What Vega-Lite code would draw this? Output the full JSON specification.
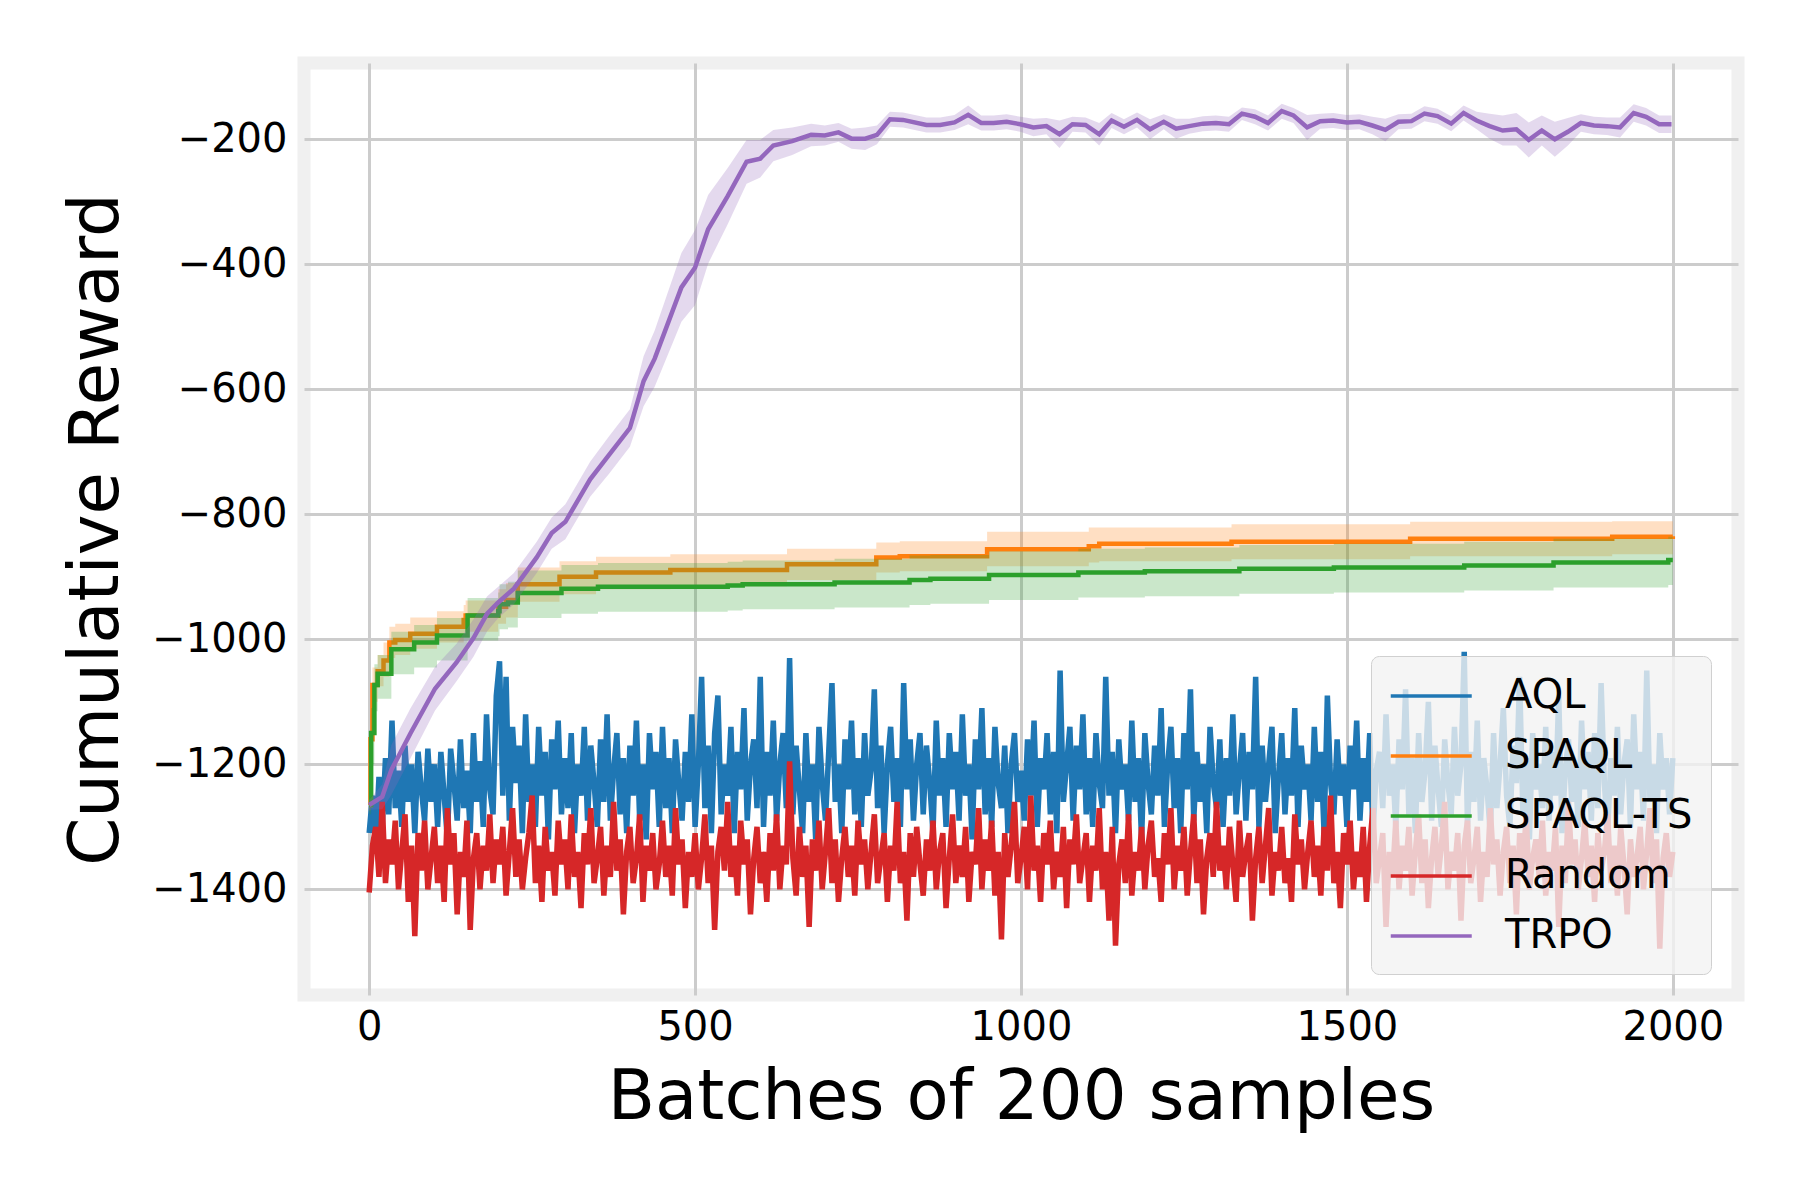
{
  "$schema": "https://vega.github.io/schema/vega-lite/v6.json",
  "width": 1434,
  "height": 932,
  "autosize": {"type": "none"},
  "padding": {"left": 304, "top": 63, "right": 62, "bottom": 205},
  "background": "#ffffff",
  "config": {
    "font": "DejaVu Sans",
    "view": {"stroke": "#f0f0f0", "strokeWidth": 13, "fill": "#ffffff"},
    "axis": {
      "grid": true,
      "gridColor": "#cccccc",
      "gridWidth": 3,
      "domain": false,
      "ticks": false,
      "labelFont": "DejaVu Sans",
      "labelFontSize": 40,
      "labelColor": "#000000",
      "titleFont": "DejaVu Sans",
      "titleFontSize": 69,
      "titleFontWeight": "normal",
      "titleColor": "#000000"
    }
  },
  "datasets": {
    "noisy": [
      {"x":0,"AQL":-1310,"Random":-1405},{"x":5,"AQL":-1250,"Random":-1330},{"x":10,"AQL":-1330,"Random":-1300},{"x":15,"AQL":-1220,"Random":-1380},{"x":20,"AQL":-1300,"Random":-1260},{"x":25,"AQL":-1190,"Random":-1390},{"x":30,"AQL":-1280,"Random":-1320},{"x":35,"AQL":-1130,"Random":-1360},{"x":40,"AQL":-1270,"Random":-1290},{"x":45,"AQL":-1210,"Random":-1400},
      {"x":50,"AQL":-1300,"Random":-1340},{"x":55,"AQL":-1170,"Random":-1280},{"x":60,"AQL":-1260,"Random":-1420},{"x":65,"AQL":-1200,"Random":-1330},{"x":70,"AQL":-1310,"Random":-1475},{"x":75,"AQL":-1180,"Random":-1310},{"x":80,"AQL":-1240,"Random":-1370},{"x":85,"AQL":-1290,"Random":-1290},{"x":90,"AQL":-1175,"Random":-1400},{"x":95,"AQL":-1260,"Random":-1350},
      {"x":100,"AQL":-1200,"Random":-1300},{"x":105,"AQL":-1300,"Random":-1390},{"x":110,"AQL":-1180,"Random":-1330},{"x":115,"AQL":-1250,"Random":-1420},{"x":120,"AQL":-1320,"Random":-1270},{"x":125,"AQL":-1175,"Random":-1360},{"x":130,"AQL":-1230,"Random":-1310},{"x":135,"AQL":-1290,"Random":-1440},{"x":140,"AQL":-1160,"Random":-1340},{"x":145,"AQL":-1270,"Random":-1380},
      {"x":150,"AQL":-1210,"Random":-1290},{"x":155,"AQL":-1310,"Random":-1465},{"x":160,"AQL":-1150,"Random":-1350},{"x":165,"AQL":-1260,"Random":-1310},{"x":170,"AQL":-1195,"Random":-1400},{"x":175,"AQL":-1300,"Random":-1330},{"x":180,"AQL":-1120,"Random":-1370},{"x":185,"AQL":-1240,"Random":-1280},{"x":190,"AQL":-1280,"Random":-1390},{"x":195,"AQL":-1090,"Random":-1320},
      {"x":200,"AQL":-1035,"Random":-1360},{"x":205,"AQL":-1250,"Random":-1300},{"x":210,"AQL":-1060,"Random":-1410},{"x":215,"AQL":-1290,"Random":-1340},{"x":220,"AQL":-1140,"Random":-1270},{"x":225,"AQL":-1230,"Random":-1380},{"x":230,"AQL":-1170,"Random":-1320},{"x":235,"AQL":-1310,"Random":-1400},{"x":240,"AQL":-1120,"Random":-1350},{"x":245,"AQL":-1260,"Random":-1310},
      {"x":250,"AQL":-1200,"Random":-1250},{"x":255,"AQL":-1300,"Random":-1390},{"x":260,"AQL":-1140,"Random":-1330},{"x":265,"AQL":-1250,"Random":-1420},{"x":270,"AQL":-1180,"Random":-1300},{"x":275,"AQL":-1320,"Random":-1370},{"x":280,"AQL":-1160,"Random":-1340},{"x":285,"AQL":-1240,"Random":-1410},{"x":290,"AQL":-1130,"Random":-1290},{"x":295,"AQL":-1280,"Random":-1360},
      {"x":300,"AQL":-1190,"Random":-1320},{"x":305,"AQL":-1270,"Random":-1400},{"x":310,"AQL":-1150,"Random":-1280},{"x":315,"AQL":-1310,"Random":-1380},{"x":320,"AQL":-1200,"Random":-1340},{"x":325,"AQL":-1250,"Random":-1430},{"x":330,"AQL":-1140,"Random":-1310},{"x":335,"AQL":-1290,"Random":-1360},{"x":340,"AQL":-1170,"Random":-1270},{"x":345,"AQL":-1230,"Random":-1390},
      {"x":350,"AQL":-1300,"Random":-1350},{"x":355,"AQL":-1160,"Random":-1300},{"x":360,"AQL":-1260,"Random":-1410},{"x":365,"AQL":-1120,"Random":-1330},{"x":370,"AQL":-1290,"Random":-1380},{"x":375,"AQL":-1210,"Random":-1260},{"x":380,"AQL":-1150,"Random":-1370},{"x":385,"AQL":-1280,"Random":-1320},{"x":390,"AQL":-1190,"Random":-1440},{"x":395,"AQL":-1310,"Random":-1340},
      {"x":400,"AQL":-1170,"Random":-1300},{"x":405,"AQL":-1250,"Random":-1390},{"x":410,"AQL":-1130,"Random":-1350},{"x":415,"AQL":-1290,"Random":-1280},{"x":420,"AQL":-1200,"Random":-1420},{"x":425,"AQL":-1320,"Random":-1330},{"x":430,"AQL":-1150,"Random":-1370},{"x":435,"AQL":-1240,"Random":-1310},{"x":440,"AQL":-1180,"Random":-1400},{"x":445,"AQL":-1300,"Random":-1360},
      {"x":450,"AQL":-1140,"Random":-1290},{"x":455,"AQL":-1270,"Random":-1380},{"x":460,"AQL":-1190,"Random":-1330},{"x":465,"AQL":-1310,"Random":-1410},{"x":470,"AQL":-1160,"Random":-1270},{"x":475,"AQL":-1230,"Random":-1360},{"x":480,"AQL":-1290,"Random":-1320},{"x":485,"AQL":-1180,"Random":-1430},{"x":490,"AQL":-1260,"Random":-1340},{"x":495,"AQL":-1120,"Random":-1380},
      {"x":500,"AQL":-1300,"Random":-1310},{"x":505,"AQL":-1200,"Random":-1400},{"x":510,"AQL":-1060,"Random":-1350},{"x":515,"AQL":-1270,"Random":-1280},{"x":520,"AQL":-1170,"Random":-1390},{"x":525,"AQL":-1310,"Random":-1330},{"x":530,"AQL":-1150,"Random":-1465},{"x":535,"AQL":-1090,"Random":-1340},{"x":540,"AQL":-1280,"Random":-1300},{"x":545,"AQL":-1200,"Random":-1370},
      {"x":550,"AQL":-1250,"Random":-1260},{"x":555,"AQL":-1140,"Random":-1380},{"x":560,"AQL":-1310,"Random":-1330},{"x":565,"AQL":-1180,"Random":-1410},{"x":570,"AQL":-1240,"Random":-1290},{"x":575,"AQL":-1110,"Random":-1360},{"x":580,"AQL":-1290,"Random":-1320},{"x":585,"AQL":-1200,"Random":-1440},{"x":590,"AQL":-1160,"Random":-1350},{"x":595,"AQL":-1270,"Random":-1300},
      {"x":600,"AQL":-1060,"Random":-1390},{"x":605,"AQL":-1300,"Random":-1340},{"x":610,"AQL":-1180,"Random":-1420},{"x":615,"AQL":-1250,"Random":-1310},{"x":620,"AQL":-1130,"Random":-1370},{"x":625,"AQL":-1290,"Random":-1280},{"x":630,"AQL":-1200,"Random":-1400},{"x":635,"AQL":-1150,"Random":-1330},{"x":640,"AQL":-1270,"Random":-1360},{"x":645,"AQL":-1030,"Random":-1195},
      {"x":650,"AQL":-1280,"Random":-1350},{"x":655,"AQL":-1170,"Random":-1410},{"x":660,"AQL":-1240,"Random":-1300},{"x":665,"AQL":-1310,"Random":-1380},{"x":670,"AQL":-1150,"Random":-1330},{"x":675,"AQL":-1260,"Random":-1460},{"x":680,"AQL":-1200,"Random":-1320},{"x":685,"AQL":-1320,"Random":-1370},{"x":690,"AQL":-1140,"Random":-1290},{"x":695,"AQL":-1230,"Random":-1400},
      {"x":700,"AQL":-1290,"Random":-1340},{"x":705,"AQL":-1180,"Random":-1270},{"x":710,"AQL":-1070,"Random":-1390},{"x":715,"AQL":-1260,"Random":-1320},{"x":720,"AQL":-1200,"Random":-1420},{"x":725,"AQL":-1310,"Random":-1350},{"x":730,"AQL":-1160,"Random":-1300},{"x":735,"AQL":-1240,"Random":-1380},{"x":740,"AQL":-1130,"Random":-1330},{"x":745,"AQL":-1280,"Random":-1410},
      {"x":750,"AQL":-1190,"Random":-1290},{"x":755,"AQL":-1300,"Random":-1360},{"x":760,"AQL":-1150,"Random":-1320},{"x":765,"AQL":-1250,"Random":-1400},{"x":770,"AQL":-1210,"Random":-1340},{"x":775,"AQL":-1080,"Random":-1280},{"x":780,"AQL":-1270,"Random":-1390},{"x":785,"AQL":-1170,"Random":-1350},{"x":790,"AQL":-1310,"Random":-1310},{"x":795,"AQL":-1200,"Random":-1420},
      {"x":800,"AQL":-1140,"Random":-1330},{"x":805,"AQL":-1260,"Random":-1370},{"x":810,"AQL":-1190,"Random":-1260},{"x":815,"AQL":-1300,"Random":-1390},{"x":820,"AQL":-1070,"Random":-1340},{"x":825,"AQL":-1240,"Random":-1450},{"x":830,"AQL":-1160,"Random":-1310},{"x":835,"AQL":-1290,"Random":-1380},{"x":840,"AQL":-1200,"Random":-1300},{"x":845,"AQL":-1150,"Random":-1360},
      {"x":850,"AQL":-1280,"Random":-1410},{"x":855,"AQL":-1170,"Random":-1320},{"x":860,"AQL":-1230,"Random":-1370},{"x":865,"AQL":-1310,"Random":-1290},{"x":870,"AQL":-1130,"Random":-1400},{"x":875,"AQL":-1250,"Random":-1340},{"x":880,"AQL":-1190,"Random":-1310},{"x":885,"AQL":-1300,"Random":-1430},{"x":890,"AQL":-1150,"Random":-1350},{"x":895,"AQL":-1240,"Random":-1280},
      {"x":900,"AQL":-1180,"Random":-1390},{"x":905,"AQL":-1290,"Random":-1330},{"x":910,"AQL":-1120,"Random":-1380},{"x":915,"AQL":-1250,"Random":-1300},{"x":920,"AQL":-1200,"Random":-1420},{"x":925,"AQL":-1320,"Random":-1340},{"x":930,"AQL":-1160,"Random":-1360},{"x":935,"AQL":-1240,"Random":-1270},{"x":940,"AQL":-1110,"Random":-1400},{"x":945,"AQL":-1280,"Random":-1320},
      {"x":950,"AQL":-1190,"Random":-1370},{"x":955,"AQL":-1300,"Random":-1290},{"x":960,"AQL":-1140,"Random":-1410},{"x":965,"AQL":-1230,"Random":-1340},{"x":970,"AQL":-1270,"Random":-1480},{"x":975,"AQL":-1170,"Random":-1310},{"x":980,"AQL":-1310,"Random":-1380},{"x":985,"AQL":-1200,"Random":-1330},{"x":990,"AQL":-1150,"Random":-1260},{"x":995,"AQL":-1260,"Random":-1390},
      {"x":1000,"AQL":-1210,"Random":-1350},{"x":1005,"AQL":-1290,"Random":-1300},{"x":1010,"AQL":-1160,"Random":-1400},{"x":1015,"AQL":-1250,"Random":-1250},{"x":1020,"AQL":-1130,"Random":-1370},{"x":1025,"AQL":-1300,"Random":-1330},{"x":1030,"AQL":-1190,"Random":-1420},{"x":1035,"AQL":-1240,"Random":-1310},{"x":1040,"AQL":-1150,"Random":-1360},{"x":1045,"AQL":-1280,"Random":-1290},
      {"x":1050,"AQL":-1180,"Random":-1400},{"x":1055,"AQL":-1310,"Random":-1340},{"x":1060,"AQL":-1050,"Random":-1380},{"x":1065,"AQL":-1260,"Random":-1300},{"x":1070,"AQL":-1200,"Random":-1430},{"x":1075,"AQL":-1140,"Random":-1320},{"x":1080,"AQL":-1290,"Random":-1360},{"x":1085,"AQL":-1170,"Random":-1280},{"x":1090,"AQL":-1240,"Random":-1390},{"x":1095,"AQL":-1120,"Random":-1350},
      {"x":1100,"AQL":-1280,"Random":-1310},{"x":1105,"AQL":-1190,"Random":-1420},{"x":1110,"AQL":-1300,"Random":-1330},{"x":1115,"AQL":-1150,"Random":-1370},{"x":1120,"AQL":-1230,"Random":-1270},{"x":1125,"AQL":-1270,"Random":-1400},{"x":1130,"AQL":-1060,"Random":-1340},{"x":1135,"AQL":-1250,"Random":-1450},{"x":1140,"AQL":-1180,"Random":-1300},{"x":1145,"AQL":-1310,"Random":-1490},
      {"x":1150,"AQL":-1160,"Random":-1360},{"x":1155,"AQL":-1240,"Random":-1320},{"x":1160,"AQL":-1200,"Random":-1390},{"x":1165,"AQL":-1290,"Random":-1280},{"x":1170,"AQL":-1130,"Random":-1410},{"x":1175,"AQL":-1260,"Random":-1340},{"x":1180,"AQL":-1190,"Random":-1370},{"x":1185,"AQL":-1320,"Random":-1300},{"x":1190,"AQL":-1150,"Random":-1400},{"x":1195,"AQL":-1230,"Random":-1330},
      {"x":1200,"AQL":-1280,"Random":-1290},{"x":1205,"AQL":-1170,"Random":-1380},{"x":1210,"AQL":-1250,"Random":-1350},{"x":1215,"AQL":-1110,"Random":-1420},{"x":1220,"AQL":-1300,"Random":-1310},{"x":1225,"AQL":-1200,"Random":-1360},{"x":1230,"AQL":-1140,"Random":-1270},{"x":1235,"AQL":-1270,"Random":-1400},{"x":1240,"AQL":-1190,"Random":-1330},{"x":1245,"AQL":-1310,"Random":-1370},
      {"x":1250,"AQL":-1150,"Random":-1300},{"x":1255,"AQL":-1240,"Random":-1410},{"x":1260,"AQL":-1080,"Random":-1340},{"x":1265,"AQL":-1290,"Random":-1280},{"x":1270,"AQL":-1180,"Random":-1390},{"x":1275,"AQL":-1260,"Random":-1320},{"x":1280,"AQL":-1200,"Random":-1440},{"x":1285,"AQL":-1310,"Random":-1350},{"x":1290,"AQL":-1140,"Random":-1310},{"x":1295,"AQL":-1230,"Random":-1380},
      {"x":1300,"AQL":-1270,"Random":-1260},{"x":1305,"AQL":-1160,"Random":-1370},{"x":1310,"AQL":-1300,"Random":-1330},{"x":1315,"AQL":-1190,"Random":-1400},{"x":1320,"AQL":-1250,"Random":-1300},{"x":1325,"AQL":-1120,"Random":-1360},{"x":1330,"AQL":-1280,"Random":-1420},{"x":1335,"AQL":-1210,"Random":-1290},{"x":1340,"AQL":-1150,"Random":-1380},{"x":1345,"AQL":-1290,"Random":-1340},
      {"x":1350,"AQL":-1180,"Random":-1310},{"x":1355,"AQL":-1240,"Random":-1450},{"x":1360,"AQL":-1060,"Random":-1350},{"x":1365,"AQL":-1300,"Random":-1300},{"x":1370,"AQL":-1170,"Random":-1390},{"x":1375,"AQL":-1260,"Random":-1330},{"x":1380,"AQL":-1200,"Random":-1270},{"x":1385,"AQL":-1140,"Random":-1410},{"x":1390,"AQL":-1310,"Random":-1340},{"x":1395,"AQL":-1220,"Random":-1370},
      {"x":1400,"AQL":-1150,"Random":-1300},{"x":1405,"AQL":-1280,"Random":-1390},{"x":1410,"AQL":-1190,"Random":-1350},{"x":1415,"AQL":-1250,"Random":-1420},{"x":1420,"AQL":-1110,"Random":-1280},{"x":1425,"AQL":-1300,"Random":-1360},{"x":1430,"AQL":-1170,"Random":-1320},{"x":1435,"AQL":-1240,"Random":-1400},{"x":1440,"AQL":-1200,"Random":-1340},{"x":1445,"AQL":-1290,"Random":-1290},
      {"x":1450,"AQL":-1140,"Random":-1380},{"x":1455,"AQL":-1260,"Random":-1330},{"x":1460,"AQL":-1180,"Random":-1410},{"x":1465,"AQL":-1310,"Random":-1300},{"x":1470,"AQL":-1090,"Random":-1370},{"x":1475,"AQL":-1230,"Random":-1250},{"x":1480,"AQL":-1280,"Random":-1390},{"x":1485,"AQL":-1160,"Random":-1340},{"x":1490,"AQL":-1250,"Random":-1430},{"x":1495,"AQL":-1200,"Random":-1310},
      {"x":1500,"AQL":-1300,"Random":-1360},{"x":1505,"AQL":-1170,"Random":-1290},{"x":1510,"AQL":-1240,"Random":-1400},{"x":1515,"AQL":-1130,"Random":-1340},{"x":1520,"AQL":-1290,"Random":-1380},{"x":1525,"AQL":-1190,"Random":-1300},{"x":1530,"AQL":-1260,"Random":-1420},{"x":1535,"AQL":-1150,"Random":-1330},{"x":1540,"AQL":-1310,"Random":-1270},{"x":1545,"AQL":-1210,"Random":-1390},
      {"x":1550,"AQL":-1180,"Random":-1350},{"x":1555,"AQL":-1270,"Random":-1310},{"x":1560,"AQL":-1120,"Random":-1460},{"x":1565,"AQL":-1250,"Random":-1340},{"x":1570,"AQL":-1200,"Random":-1380},{"x":1575,"AQL":-1300,"Random":-1290},{"x":1580,"AQL":-1160,"Random":-1400},{"x":1585,"AQL":-1240,"Random":-1330},{"x":1590,"AQL":-1080,"Random":-1370},{"x":1595,"AQL":-1280,"Random":-1300},
      {"x":1600,"AQL":-1190,"Random":-1410},{"x":1605,"AQL":-1310,"Random":-1340},{"x":1610,"AQL":-1150,"Random":-1280},{"x":1615,"AQL":-1260,"Random":-1390},{"x":1620,"AQL":-1210,"Random":-1320},{"x":1625,"AQL":-1100,"Random":-1430},{"x":1630,"AQL":-1290,"Random":-1350},{"x":1635,"AQL":-1170,"Random":-1300},{"x":1640,"AQL":-1240,"Random":-1380},{"x":1645,"AQL":-1300,"Random":-1330},
      {"x":1650,"AQL":-1160,"Random":-1260},{"x":1655,"AQL":-1230,"Random":-1400},{"x":1660,"AQL":-1280,"Random":-1340},{"x":1665,"AQL":-1140,"Random":-1370},{"x":1670,"AQL":-1250,"Random":-1310},{"x":1675,"AQL":-1200,"Random":-1450},{"x":1680,"AQL":-1020,"Random":-1330},{"x":1685,"AQL":-1300,"Random":-1290},{"x":1690,"AQL":-1180,"Random":-1390},{"x":1695,"AQL":-1260,"Random":-1350},
      {"x":1700,"AQL":-1130,"Random":-1300},{"x":1705,"AQL":-1290,"Random":-1420},{"x":1710,"AQL":-1190,"Random":-1340},{"x":1715,"AQL":-1240,"Random":-1380},{"x":1720,"AQL":-1310,"Random":-1270},{"x":1725,"AQL":-1150,"Random":-1360},{"x":1730,"AQL":-1270,"Random":-1320},{"x":1735,"AQL":-1200,"Random":-1410},{"x":1740,"AQL":-1110,"Random":-1340},{"x":1745,"AQL":-1250,"Random":-1300},
      {"x":1750,"AQL":-1300,"Random":-1390},{"x":1755,"AQL":-1170,"Random":-1330},{"x":1760,"AQL":-1230,"Random":-1440},{"x":1765,"AQL":-1060,"Random":-1310},{"x":1770,"AQL":-1280,"Random":-1370},{"x":1775,"AQL":-1190,"Random":-1280},{"x":1780,"AQL":-1320,"Random":-1400},{"x":1785,"AQL":-1150,"Random":-1350},{"x":1790,"AQL":-1240,"Random":-1320},{"x":1795,"AQL":-1200,"Random":-1380},
      {"x":1800,"AQL":-1270,"Random":-1290},{"x":1805,"AQL":-1140,"Random":-1410},{"x":1810,"AQL":-1290,"Random":-1340},{"x":1815,"AQL":-1180,"Random":-1370},{"x":1820,"AQL":-1250,"Random":-1300},{"x":1825,"AQL":-1090,"Random":-1460},{"x":1830,"AQL":-1310,"Random":-1330},{"x":1835,"AQL":-1210,"Random":-1390},{"x":1840,"AQL":-1160,"Random":-1260},{"x":1845,"AQL":-1260,"Random":-1360},
      {"x":1850,"AQL":-1200,"Random":-1320},{"x":1855,"AQL":-1300,"Random":-1400},{"x":1860,"AQL":-1130,"Random":-1350},{"x":1865,"AQL":-1240,"Random":-1290},{"x":1870,"AQL":-1180,"Random":-1380},{"x":1875,"AQL":-1290,"Random":-1330},{"x":1880,"AQL":-1150,"Random":-1420},{"x":1885,"AQL":-1270,"Random":-1310},{"x":1890,"AQL":-1070,"Random":-1370},{"x":1895,"AQL":-1230,"Random":-1340},
      {"x":1900,"AQL":-1310,"Random":-1280},{"x":1905,"AQL":-1190,"Random":-1390},{"x":1910,"AQL":-1250,"Random":-1330},{"x":1915,"AQL":-1140,"Random":-1410},{"x":1920,"AQL":-1280,"Random":-1300},{"x":1925,"AQL":-1200,"Random":-1360},{"x":1930,"AQL":-1160,"Random":-1440},{"x":1935,"AQL":-1300,"Random":-1320},{"x":1940,"AQL":-1120,"Random":-1380},{"x":1945,"AQL":-1240,"Random":-1350},
      {"x":1950,"AQL":-1180,"Random":-1300},{"x":1955,"AQL":-1290,"Random":-1400},{"x":1960,"AQL":-1050,"Random":-1340},{"x":1965,"AQL":-1260,"Random":-1270},{"x":1970,"AQL":-1200,"Random":-1390},{"x":1975,"AQL":-1310,"Random":-1320},{"x":1980,"AQL":-1150,"Random":-1495},{"x":1985,"AQL":-1240,"Random":-1350},{"x":1990,"AQL":-1190,"Random":-1310},{"x":1995,"AQL":-1280,"Random":-1380},
      {"x":2000,"AQL":-1190,"Random":-1340}
    ],
    "curves": [
      {"series":"SPAQL","x":0,"y":-1265,"lo":-1275,"hi":-1250},
      {"series":"SPAQL","x":2,"y":-1160,"lo":-1190,"hi":-1120},
      {"series":"SPAQL","x":5,"y":-1073,"lo":-1100,"hi":-1045},
      {"series":"SPAQL","x":13,"y":-1051,"lo":-1075,"hi":-1025},
      {"series":"SPAQL","x":22,"y":-1034,"lo":-1060,"hi":-1005},
      {"series":"SPAQL","x":31,"y":-1005,"lo":-1030,"hi":-980},
      {"series":"SPAQL","x":40,"y":-1001,"lo":-1025,"hi":-975},
      {"series":"SPAQL","x":63,"y":-991,"lo":-1015,"hi":-965},
      {"series":"SPAQL","x":104,"y":-980,"lo":-1005,"hi":-955},
      {"series":"SPAQL","x":145,"y":-969,"lo":-995,"hi":-945},
      {"series":"SPAQL","x":148,"y":-962,"lo":-988,"hi":-938},
      {"series":"SPAQL","x":198,"y":-948,"lo":-975,"hi":-920},
      {"series":"SPAQL","x":210,"y":-937,"lo":-965,"hi":-910},
      {"series":"SPAQL","x":228,"y":-912,"lo":-940,"hi":-885},
      {"series":"SPAQL","x":292,"y":-900,"lo":-928,"hi":-875},
      {"series":"SPAQL","x":348,"y":-893,"lo":-920,"hi":-868},
      {"series":"SPAQL","x":462,"y":-889,"lo":-915,"hi":-864},
      {"series":"SPAQL","x":641,"y":-880,"lo":-905,"hi":-855},
      {"series":"SPAQL","x":778,"y":-869,"lo":-893,"hi":-845},
      {"series":"SPAQL","x":814,"y":-867,"lo":-891,"hi":-843},
      {"series":"SPAQL","x":948,"y":-856,"lo":-883,"hi":-828},
      {"series":"SPAQL","x":1104,"y":-851,"lo":-877,"hi":-821},
      {"series":"SPAQL","x":1120,"y":-847,"lo":-875,"hi":-821},
      {"series":"SPAQL","x":1323,"y":-844,"lo":-872,"hi":-816},
      {"series":"SPAQL","x":1597,"y":-839,"lo":-867,"hi":-812},
      {"series":"SPAQL","x":1907,"y":-836,"lo":-864,"hi":-811},
      {"series":"SPAQL","x":2000,"y":-835,"lo":-861,"hi":-809},
      {"series":"SPAQL-TS","x":0,"y":-1265,"lo":-1280,"hi":-1250},
      {"series":"SPAQL-TS","x":3,"y":-1150,"lo":-1200,"hi":-1110},
      {"series":"SPAQL-TS","x":8,"y":-1073,"lo":-1115,"hi":-1040},
      {"series":"SPAQL-TS","x":13,"y":-1055,"lo":-1095,"hi":-1025},
      {"series":"SPAQL-TS","x":34,"y":-1016,"lo":-1056,"hi":-988},
      {"series":"SPAQL-TS","x":69,"y":-1005,"lo":-1045,"hi":-977},
      {"series":"SPAQL-TS","x":104,"y":-994,"lo":-1034,"hi":-966},
      {"series":"SPAQL-TS","x":151,"y":-962,"lo":-1002,"hi":-934},
      {"series":"SPAQL-TS","x":198,"y":-955,"lo":-995,"hi":-925},
      {"series":"SPAQL-TS","x":200,"y":-944,"lo":-984,"hi":-912},
      {"series":"SPAQL-TS","x":213,"y":-941,"lo":-981,"hi":-908},
      {"series":"SPAQL-TS","x":228,"y":-926,"lo":-966,"hi":-890},
      {"series":"SPAQL-TS","x":295,"y":-919,"lo":-959,"hi":-881},
      {"series":"SPAQL-TS","x":351,"y":-916,"lo":-956,"hi":-878},
      {"series":"SPAQL-TS","x":550,"y":-914,"lo":-954,"hi":-876},
      {"series":"SPAQL-TS","x":573,"y":-912,"lo":-952,"hi":-874},
      {"series":"SPAQL-TS","x":714,"y":-909,"lo":-949,"hi":-871},
      {"series":"SPAQL-TS","x":829,"y":-905,"lo":-945,"hi":-866},
      {"series":"SPAQL-TS","x":861,"y":-903,"lo":-943,"hi":-865},
      {"series":"SPAQL-TS","x":951,"y":-897,"lo":-937,"hi":-859},
      {"series":"SPAQL-TS","x":1088,"y":-893,"lo":-933,"hi":-855},
      {"series":"SPAQL-TS","x":1190,"y":-891,"lo":-931,"hi":-853},
      {"series":"SPAQL-TS","x":1335,"y":-887,"lo":-927,"hi":-849},
      {"series":"SPAQL-TS","x":1480,"y":-885,"lo":-925,"hi":-847},
      {"series":"SPAQL-TS","x":1680,"y":-882,"lo":-922,"hi":-844},
      {"series":"SPAQL-TS","x":1817,"y":-877,"lo":-917,"hi":-839},
      {"series":"SPAQL-TS","x":1993,"y":-873,"lo":-913,"hi":-836},
      {"series":"SPAQL-TS","x":2000,"y":-873,"lo":-913,"hi":-836},
      {"series":"TRPO","x":0,"y":-1265,"lo":-1273,"hi":-1257},
      {"series":"TRPO","x":20,"y":-1252,"lo":-1272,"hi":-1232},
      {"series":"TRPO","x":34,"y":-1209,"lo":-1249,"hi":-1169},
      {"series":"TRPO","x":63,"y":-1151,"lo":-1191,"hi":-1111},
      {"series":"TRPO","x":101,"y":-1079,"lo":-1114,"hi":-1044},
      {"series":"TRPO","x":134,"y":-1037,"lo":-1067,"hi":-1007},
      {"series":"TRPO","x":160,"y":-998,"lo":-1028,"hi":-968},
      {"series":"TRPO","x":181,"y":-959,"lo":-987,"hi":-931},
      {"series":"TRPO","x":198,"y":-941,"lo":-966,"hi":-916},
      {"series":"TRPO","x":222,"y":-919,"lo":-944,"hi":-894},
      {"series":"TRPO","x":257,"y":-869,"lo":-894,"hi":-844},
      {"series":"TRPO","x":280,"y":-830,"lo":-855,"hi":-805},
      {"series":"TRPO","x":301,"y":-812,"lo":-840,"hi":-784},
      {"series":"TRPO","x":339,"y":-744,"lo":-772,"hi":-716},
      {"series":"TRPO","x":368,"y":-705,"lo":-735,"hi":-675},
      {"series":"TRPO","x":400,"y":-662,"lo":-692,"hi":-632},
      {"series":"TRPO","x":421,"y":-587,"lo":-627,"hi":-547},
      {"series":"TRPO","x":438,"y":-551,"lo":-596,"hi":-506},
      {"series":"TRPO","x":479,"y":-437,"lo":-492,"hi":-382},
      {"series":"TRPO","x":500,"y":-405,"lo":-465,"hi":-345},
      {"series":"TRPO","x":520,"y":-344,"lo":-399,"hi":-289},
      {"series":"TRPO","x":550,"y":-291,"lo":-336,"hi":-246},
      {"series":"TRPO","x":579,"y":-236,"lo":-271,"hi":-201},
      {"series":"TRPO","x":600,"y":-231,"lo":-261,"hi":-201},
      {"series":"TRPO","x":620,"y":-210,"lo":-235,"hi":-185},
      {"series":"TRPO","x":649,"y":-203,"lo":-225,"hi":-181},
      {"series":"TRPO","x":678,"y":-193,"lo":-211,"hi":-175},
      {"series":"TRPO","x":699,"y":-194,"lo":-210,"hi":-178},
      {"series":"TRPO","x":720,"y":-189,"lo":-204,"hi":-174},
      {"series":"TRPO","x":740,"y":-199,"lo":-215,"hi":-183},
      {"series":"TRPO","x":761,"y":-199,"lo":-217,"hi":-181},
      {"series":"TRPO","x":779,"y":-193,"lo":-208,"hi":-178},
      {"series":"TRPO","x":799,"y":-168,"lo":-180,"hi":-156},
      {"series":"TRPO","x":819,"y":-169,"lo":-181,"hi":-157},
      {"series":"TRPO","x":855,"y":-177,"lo":-189,"hi":-165},
      {"series":"TRPO","x":876,"y":-177,"lo":-189,"hi":-165},
      {"series":"TRPO","x":898,"y":-173,"lo":-185,"hi":-161},
      {"series":"TRPO","x":919,"y":-161,"lo":-176,"hi":-146},
      {"series":"TRPO","x":939,"y":-174,"lo":-186,"hi":-162},
      {"series":"TRPO","x":958,"y":-174,"lo":-186,"hi":-162},
      {"series":"TRPO","x":978,"y":-172,"lo":-184,"hi":-160},
      {"series":"TRPO","x":999,"y":-176,"lo":-188,"hi":-164},
      {"series":"TRPO","x":1019,"y":-181,"lo":-195,"hi":-167},
      {"series":"TRPO","x":1039,"y":-179,"lo":-192,"hi":-166},
      {"series":"TRPO","x":1059,"y":-192,"lo":-214,"hi":-170},
      {"series":"TRPO","x":1079,"y":-176,"lo":-188,"hi":-164},
      {"series":"TRPO","x":1099,"y":-177,"lo":-189,"hi":-165},
      {"series":"TRPO","x":1120,"y":-192,"lo":-210,"hi":-174},
      {"series":"TRPO","x":1139,"y":-170,"lo":-182,"hi":-158},
      {"series":"TRPO","x":1158,"y":-180,"lo":-192,"hi":-168},
      {"series":"TRPO","x":1178,"y":-169,"lo":-181,"hi":-157},
      {"series":"TRPO","x":1198,"y":-184,"lo":-200,"hi":-168},
      {"series":"TRPO","x":1219,"y":-172,"lo":-184,"hi":-160},
      {"series":"TRPO","x":1238,"y":-183,"lo":-199,"hi":-167},
      {"series":"TRPO","x":1258,"y":-179,"lo":-191,"hi":-167},
      {"series":"TRPO","x":1279,"y":-175,"lo":-187,"hi":-163},
      {"series":"TRPO","x":1299,"y":-174,"lo":-186,"hi":-162},
      {"series":"TRPO","x":1319,"y":-176,"lo":-188,"hi":-164},
      {"series":"TRPO","x":1339,"y":-159,"lo":-169,"hi":-149},
      {"series":"TRPO","x":1359,"y":-164,"lo":-176,"hi":-152},
      {"series":"TRPO","x":1379,"y":-174,"lo":-186,"hi":-162},
      {"series":"TRPO","x":1400,"y":-155,"lo":-167,"hi":-143},
      {"series":"TRPO","x":1418,"y":-162,"lo":-174,"hi":-150},
      {"series":"TRPO","x":1439,"y":-181,"lo":-201,"hi":-161},
      {"series":"TRPO","x":1459,"y":-171,"lo":-183,"hi":-159},
      {"series":"TRPO","x":1479,"y":-170,"lo":-182,"hi":-158},
      {"series":"TRPO","x":1500,"y":-173,"lo":-185,"hi":-161},
      {"series":"TRPO","x":1519,"y":-172,"lo":-184,"hi":-160},
      {"series":"TRPO","x":1539,"y":-178,"lo":-192,"hi":-164},
      {"series":"TRPO","x":1559,"y":-185,"lo":-203,"hi":-167},
      {"series":"TRPO","x":1579,"y":-172,"lo":-184,"hi":-160},
      {"series":"TRPO","x":1599,"y":-171,"lo":-183,"hi":-159},
      {"series":"TRPO","x":1619,"y":-159,"lo":-171,"hi":-147},
      {"series":"TRPO","x":1639,"y":-163,"lo":-175,"hi":-151},
      {"series":"TRPO","x":1660,"y":-175,"lo":-187,"hi":-163},
      {"series":"TRPO","x":1679,"y":-158,"lo":-170,"hi":-146},
      {"series":"TRPO","x":1699,"y":-170,"lo":-184,"hi":-156},
      {"series":"TRPO","x":1719,"y":-179,"lo":-199,"hi":-159},
      {"series":"TRPO","x":1739,"y":-186,"lo":-210,"hi":-162},
      {"series":"TRPO","x":1760,"y":-184,"lo":-210,"hi":-158},
      {"series":"TRPO","x":1779,"y":-201,"lo":-229,"hi":-173},
      {"series":"TRPO","x":1799,"y":-186,"lo":-210,"hi":-162},
      {"series":"TRPO","x":1819,"y":-200,"lo":-228,"hi":-172},
      {"series":"TRPO","x":1839,"y":-188,"lo":-210,"hi":-166},
      {"series":"TRPO","x":1859,"y":-174,"lo":-188,"hi":-160},
      {"series":"TRPO","x":1879,"y":-178,"lo":-192,"hi":-164},
      {"series":"TRPO","x":1899,"y":-179,"lo":-193,"hi":-165},
      {"series":"TRPO","x":1919,"y":-181,"lo":-197,"hi":-165},
      {"series":"TRPO","x":1940,"y":-158,"lo":-172,"hi":-144},
      {"series":"TRPO","x":1959,"y":-164,"lo":-178,"hi":-150},
      {"series":"TRPO","x":1979,"y":-176,"lo":-190,"hi":-162},
      {"series":"TRPO","x":1998,"y":-176,"lo":-190,"hi":-162}
    ]
  },
  "encoding": {
    "x": {
      "field": "x",
      "type": "quantitative",
      "scale": {"domain": [-100, 2100], "nice": false, "zero": false},
      "axis": {"values": [0, 500, 1000, 1500, 2000], "format": "d", "labelPadding": 12, "title": "Batches of 200 samples", "titlePadding": 16}
    },
    "y": {
      "field": "y",
      "type": "quantitative",
      "scale": {"domain": [-1569, -78], "nice": false, "zero": false},
      "axis": {"values": [-1400, -1200, -1000, -800, -600, -400, -200], "format": "d", "labelPadding": 17, "title": "Cumulative Reward", "titlePadding": 20}
    }
  },
  "layer": [
    {
      "data": {"name": "noisy"},
      "transform": [{"fold": ["AQL"], "as": ["series", "y"]}],
      "mark": {"type": "line", "strokeWidth": 5.5},
      "encoding": {
        "color": {
          "field": "series",
          "type": "nominal",
          "scale": {
            "domain": ["AQL", "SPAQL", "SPAQL-TS", "Random", "TRPO"],
            "range": ["#1f77b4", "#ff7f0e", "#2ca02c", "#d62728", "#9467bd"]
          },
          "legend": {
            "title": null,
            "orient": "none",
            "legendX": 1067,
            "legendY": 593,
            "symbolType": "M-1,0H3",
            "symbolSize": 1640,
            "symbolStrokeWidth": 3.5,
            "symbolFillColor": "transparent",
            "symbolOpacity": 1,
            "labelFont": "DejaVu Sans",
            "labelFontSize": 40,
            "labelColor": "#000000",
            "labelOffset": 72,
            "labelLimit": 0,
            "rowPadding": 18,
            "padding": 18,
            "fillColor": "rgba(242,242,242,0.8)",
            "strokeColor": "#d0d0d0",
            "cornerRadius": 8
          }
        }
      }
    },
    {
      "data": {"name": "curves"},
      "transform": [{"filter": "datum.series == 'SPAQL'"}],
      "mark": {"type": "area", "interpolate": "step-after", "color": "#ff7f0e", "opacity": 0.25},
      "encoding": {
        "y": {"field": "lo", "type": "quantitative", "title": "Cumulative Reward"},
        "y2": {"field": "hi"}
      }
    },
    {
      "data": {"name": "curves"},
      "transform": [{"filter": "datum.series == 'SPAQL'"}],
      "mark": {"type": "line", "interpolate": "step-after", "strokeWidth": 4.5},
      "encoding": {"color": {"field": "series", "type": "nominal"}}
    },
    {
      "data": {"name": "curves"},
      "transform": [{"filter": "datum.series == 'SPAQL-TS'"}],
      "mark": {"type": "area", "interpolate": "step-after", "color": "#2ca02c", "opacity": 0.25},
      "encoding": {
        "y": {"field": "lo", "type": "quantitative", "title": "Cumulative Reward"},
        "y2": {"field": "hi"}
      }
    },
    {
      "data": {"name": "curves"},
      "transform": [{"filter": "datum.series == 'SPAQL-TS'"}],
      "mark": {"type": "line", "interpolate": "step-after", "strokeWidth": 4.5},
      "encoding": {"color": {"field": "series", "type": "nominal"}}
    },
    {
      "data": {"name": "noisy"},
      "transform": [{"fold": ["Random"], "as": ["series", "y"]}],
      "mark": {"type": "line", "strokeWidth": 5.5},
      "encoding": {"color": {"field": "series", "type": "nominal"}}
    },
    {
      "data": {"name": "curves"},
      "transform": [{"filter": "datum.series == 'TRPO'"}],
      "mark": {"type": "area", "color": "#9467bd", "opacity": 0.25},
      "encoding": {
        "y": {"field": "lo", "type": "quantitative", "title": "Cumulative Reward"},
        "y2": {"field": "hi"}
      }
    },
    {
      "data": {"name": "curves"},
      "transform": [{"filter": "datum.series == 'TRPO'"}],
      "mark": {"type": "line", "strokeWidth": 4.5},
      "encoding": {"color": {"field": "series", "type": "nominal"}}
    }
  ]
}
